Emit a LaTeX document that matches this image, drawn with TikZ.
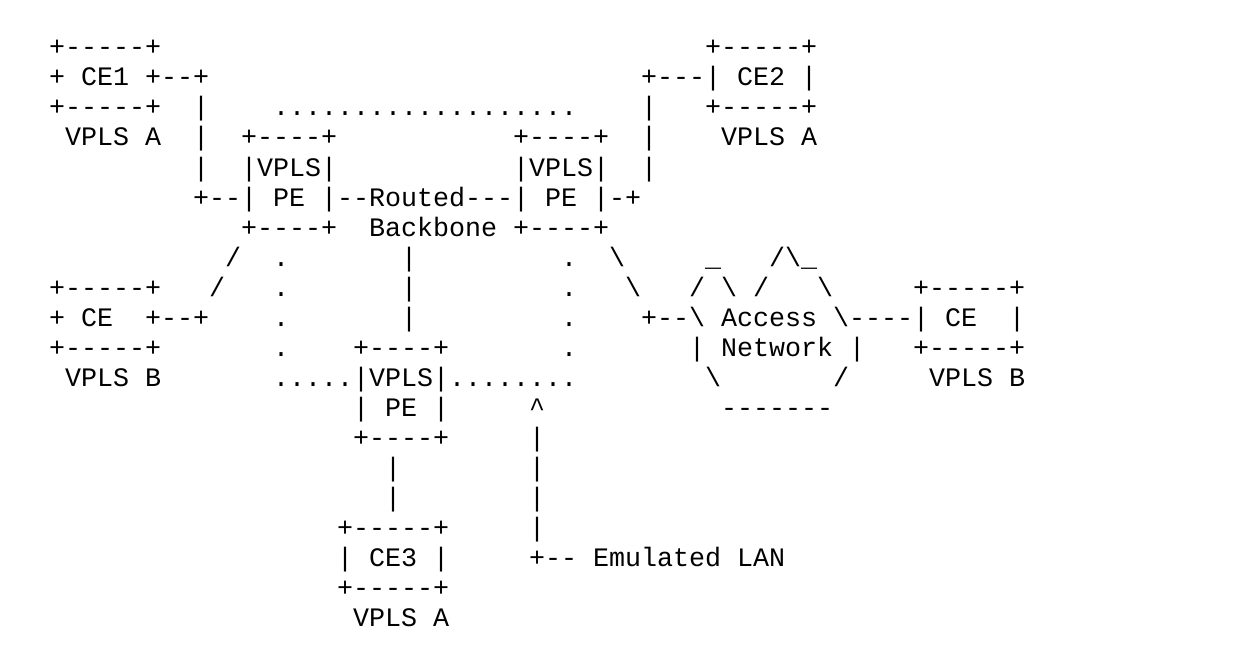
\documentclass[tikz,border=0pt]{standalone}
\usepackage{fontspec}
\setmonofont{Liberation Mono}
\tikzset{
  txt/.style={anchor=base west, inner sep=0pt, outer sep=0pt,
    font=\ttfamily\fontsize{26.667}{30}\selectfont\frenchspacing}
}
% \asc{name}{column}{row}{text}
\newcommand\asc[4]{\node[txt] (#1) at ({#2*16+1},{26+30*#3}) {#4};}
\newcommand\bs{\textbackslash{}}
\begin{document}
\begin{tikzpicture}[x=1pt,y=-1pt]
\useasboundingbox (0,0) rectangle (1248,650);
% row 1
\asc{ceonetop}{3}{1}{+-----+}
\asc{cetwotop}{44}{1}{+-----+}
% row 2
\asc{ceone}{3}{2}{+ CE1 +--+}
\asc{cetwo}{40}{2}{+---| CE2 |}
% row 3
\asc{ceonebot}{3}{3}{+-----+}
\asc{lnkaiii}{12}{3}{|}
\asc{dotstop}{17}{3}{...................}
\asc{lnkbiii}{40}{3}{|}
\asc{cetwobot}{44}{3}{+-----+}
% row 4
\asc{vplsaone}{4}{4}{VPLS A}
\asc{lnkaiv}{12}{4}{|}
\asc{peonetop}{15}{4}{+----+}
\asc{petwotop}{32}{4}{+----+}
\asc{lnkbiv}{40}{4}{|}
\asc{vplsatwo}{45}{4}{VPLS A}
% row 5
\asc{lnkav}{12}{5}{|}
\asc{peonevpls}{15}{5}{|VPLS|}
\asc{petwovpls}{32}{5}{|VPLS|}
\asc{lnkbv}{40}{5}{|}
% row 6
\asc{routed}{12}{6}{+--| PE |--Routed---| PE |-+}
% row 7
\asc{peonebot}{15}{7}{+----+}
\asc{backbone}{23}{7}{Backbone}
\asc{petwobot}{32}{7}{+----+}
% row 8
\asc{slai}{14}{8}{/}
\asc{dlviii}{17}{8}{.}
\asc{vbviii}{25}{8}{|}
\asc{drviii}{35}{8}{.}
\asc{bsai}{38}{8}{\bs}
\asc{cloudu}{44}{8}{\_}
\asc{cloudv}{48}{8}{/\bs\_}
% row 9
\asc{cebtop}{3}{9}{+-----+}
\asc{slaii}{13}{9}{/}
\asc{dlix}{17}{9}{.}
\asc{vbix}{25}{9}{|}
\asc{drix}{35}{9}{.}
\asc{bsaii}{39}{9}{\bs}
\asc{cloudw}{43}{9}{/ \bs{} /}
\asc{cloudx}{51}{9}{\bs}
\asc{cectop}{57}{9}{+-----+}
% row 10
\asc{ceb}{3}{10}{+ CE~~+--+}
\asc{dlx}{17}{10}{.}
\asc{vbx}{25}{10}{|}
\asc{drx}{35}{10}{.}
\asc{access}{40}{10}{+--\bs{} Access \bs----| CE~~|}
% row 11
\asc{cebbot}{3}{11}{+-----+}
\asc{dlxi}{17}{11}{.}
\asc{pethreetop}{22}{11}{+----+}
\asc{drxi}{35}{11}{.}
\asc{network}{43}{11}{| Network |}
\asc{cecbot}{57}{11}{+-----+}
% row 12
\asc{vplsbone}{4}{12}{VPLS B}
\asc{pethreevpls}{17}{12}{.....|VPLS|........}
\asc{cloudy}{44}{12}{\bs}
\asc{cloudz}{52}{12}{/}
\asc{vplsbtwo}{58}{12}{VPLS B}
% row 13
\asc{pethreepe}{22}{13}{| PE |}
\asc{caret}{33}{13}{\textasciicircum}
\asc{cloudbot}{45}{13}{-------}
% row 14
\asc{pethreebot}{22}{14}{+----+}
\asc{lanxiv}{33}{14}{|}
% row 15
\asc{lnkcxv}{24}{15}{|}
\asc{lanxv}{33}{15}{|}
% row 16
\asc{lnkcxvi}{24}{16}{|}
\asc{lanxvi}{33}{16}{|}
% row 17
\asc{cethreetop}{21}{17}{+-----+}
\asc{lanxvii}{33}{17}{|}
% row 18
\asc{cethree}{21}{18}{| CE3 |}
\asc{emulated}{33}{18}{+-- Emulated LAN}
% row 19
\asc{cethreebot}{21}{19}{+-----+}
% row 20
\asc{vplsathree}{22}{20}{VPLS A}
\end{tikzpicture}
\end{document}
